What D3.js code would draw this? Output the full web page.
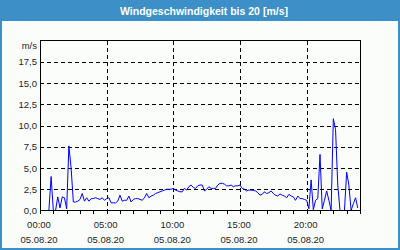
<!DOCTYPE html>
<html>
<head>
<meta charset="utf-8">
<script src="https://cdn.jsdelivr.net/npm/d3@7"></script>
<style>
  html, body { margin: 0; padding: 0; background: #fafdfa; }
  svg { display: block; }
  text { font-family: "Liberation Sans", Arial, sans-serif; }
</style>
</head>
<body>
<div id="chart"></div>
<script>
// ---- data ----
const title = "Windgeschwindigkeit bis 20 [m/s]";
const unitLabel = "m/s";
const stepMinutes = 10; // one reading every 10 minutes, starting 00:00
const windSpeed = [
  0, 0, 0, 0, 0, 4.0, 0, 0, 1.6, 0.3,
  1.6, 1.5, 0.2, 7.6, 5.0, 1.0, 1.0, 1.1, 1.3, 2.0,
  1.1, 1.5, 1.1, 1.4, 1.4, 1.5, 1.4, 1.3, 1.5, 1.2,
  1.4, 1.5, 0.9, 0.9, 0.9, 1.1, 1.8, 1.1, 1.2, 1.2,
  1.7, 1.0, 1.3, 1.4, 1.4, 1.3, 1.2, 1.5, 2.0, 1.5,
  1.7, 1.8, 2.0, 2.1, 2.2, 2.3, 2.4, 2.5, 2.5, 2.5,
  2.6, 2.4, 2.3, 2.2, 2.2, 2.6, 2.4, 2.8, 3.0, 2.7,
  2.6, 2.9, 3.0, 3.0, 2.3, 2.5, 2.8, 2.6, 2.6, 2.6,
  3.0, 3.2, 3.2, 3.1, 2.9, 2.9, 3.0, 2.8, 2.9, 2.9,
  3.0, 2.6, 2.5, 2.3, 2.4, 2.4, 2.35, 2.3, 2.1, 1.8,
  1.9, 2.2, 2.0, 2.1, 2.3, 2.0, 1.8, 1.7, 1.95, 1.8,
  1.7, 1.5, 1.9, 1.7, 1.6, 1.2, 1.7, 1.4, 1.4, 1.3,
  1.2, 0.2, 3.6, 0.1, 1.2, 1.4, 6.6, 0.2, 1.2, 2.3,
  1.2, 0.0, 10.8, 9.5, 3.0, 0, 0, 0, 4.5, 3.0,
  0, 0.8, 1.5, 0.3
];
const yTicks = [0, 2.5, 5, 7.5, 10, 12.5, 15, 17.5];
const yTickLabels = ["0,0", "2,5", "5,0", "7,5", "10,0", "12,5", "15,0", "17,5"];
const xTickMinutes = [0, 300, 600, 900, 1200];
const xTimeLabels = ["00:00", "05:00", "10:00", "15:00", "20:00"];
const xDateLabels = ["05.08.20", "05.08.20", "05.08.20", "05.08.20", "05.08.20"];
const hourTicks = d3.range(0, 1441, 60);

// ---- layout ----
const W = 400, H = 250;
const frameColor = "#3c8fc7";
const plot = { left: 40, right: 360, top: 40.5, bottom: 210.5 };

const svg = d3.select("#chart").append("svg")
  .attr("width", W).attr("height", H);

svg.append("rect").attr("x", 0).attr("y", 0).attr("width", W).attr("height", H)
  .attr("fill", "#fafdfa");
// outer frame
svg.append("rect").attr("x", 1).attr("y", 1).attr("width", W - 2).attr("height", H - 2)
  .attr("fill", "none").attr("stroke", frameColor).attr("stroke-width", 2);
// title bar
svg.append("rect").attr("x", 0).attr("y", 0).attr("width", W).attr("height", 21)
  .attr("fill", frameColor);
svg.append("text").attr("x", 204).attr("y", 14.5)
  .attr("text-anchor", "middle").attr("fill", "#ffffff")
  .attr("font-weight", "bold").attr("font-size", "10.5px")
  .text(title);

const x = d3.scaleLinear().domain([0, 1440]).range([plot.left, plot.right]);
const y = d3.scaleLinear().domain([0, 20]).range([plot.bottom, plot.top]);

// horizontal grid
svg.append("g").selectAll("line").data(yTicks.filter(d => d > 0)).join("line")
  .attr("x1", plot.left).attr("x2", plot.right)
  .attr("y1", d => Math.round(y(d)) + 0.5).attr("y2", d => Math.round(y(d)) + 0.5)
  .attr("stroke", "#000").attr("stroke-dasharray", "4,3")
  .attr("shape-rendering", "crispEdges");
// vertical grid
svg.append("g").selectAll("line").data(xTickMinutes.filter(d => d > 0)).join("line")
  .attr("y1", plot.top).attr("y2", plot.bottom)
  .attr("x1", d => Math.round(x(d)) + 0.5).attr("x2", d => Math.round(x(d)) + 0.5)
  .attr("stroke", "#000").attr("stroke-dasharray", "4,3")
  .attr("shape-rendering", "crispEdges");

// hour ticks below x axis
svg.append("g").selectAll("line").data(hourTicks).join("line")
  .attr("x1", d => Math.round(x(d)) + 0.5).attr("x2", d => Math.round(x(d)) + 0.5)
  .attr("y1", plot.bottom).attr("y2", plot.bottom + 3)
  .attr("stroke", "#000").attr("shape-rendering", "crispEdges");

// data line
const line = d3.line()
  .x((d, i) => x(i * stepMinutes))
  .y(d => y(d));
svg.append("path").datum(windSpeed)
  .attr("d", line).attr("fill", "none")
  .attr("stroke", "#0000ff").attr("stroke-width", 1);

// plot frame
svg.append("rect")
  .attr("x", plot.left + 0.5).attr("y", plot.top)
  .attr("width", plot.right - plot.left).attr("height", plot.bottom - plot.top)
  .attr("fill", "none").attr("stroke", "#000").attr("shape-rendering", "crispEdges");

// y labels
const labelColor = "#1e1e1e";
svg.append("g").selectAll("text").data(yTicks).join("text")
  .attr("x", 37).attr("y", d => y(d) + 3.5)
  .attr("text-anchor", "end").attr("font-size", "9.5px").attr("fill", labelColor)
  .text((d, i) => yTickLabels[i]);
svg.append("text").attr("x", 37).attr("y", 48.5)
  .attr("text-anchor", "end").attr("font-size", "9.5px").attr("fill", labelColor)
  .text(unitLabel);

// x labels
const xl = svg.append("g").selectAll("g").data(xTickMinutes).join("g");
xl.append("text").attr("x", d => x(d) - 1).attr("y", 227.5)
  .attr("text-anchor", "middle").attr("font-size", "9.5px").attr("fill", labelColor)
  .text((d, i) => xTimeLabels[i]);
xl.append("text").attr("x", d => x(d) - 1).attr("y", 242.5)
  .attr("text-anchor", "middle").attr("font-size", "9.5px").attr("fill", labelColor)
  .text((d, i) => xDateLabels[i]);
</script>
</body>
</html>
